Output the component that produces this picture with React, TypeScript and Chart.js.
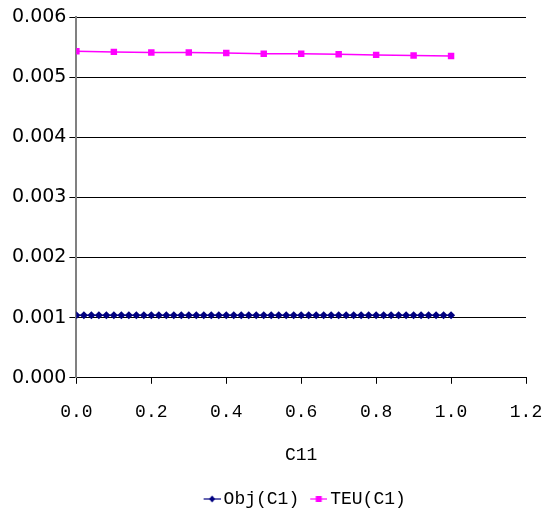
import React, { useEffect, useRef } from "react";
import { Chart, registerables } from "chart.js";

Chart.register(...registerables);

const objX: number[] = [
  0, 0.02, 0.04, 0.06, 0.08, 0.1, 0.12, 0.14, 0.16, 0.18, 0.2, 0.22, 0.24, 0.26, 0.28, 0.3, 0.32, 0.34, 0.36, 0.38,
  0.4, 0.42, 0.44, 0.46, 0.48, 0.5, 0.52, 0.54, 0.56, 0.58, 0.6, 0.62, 0.64, 0.66, 0.68, 0.7, 0.72, 0.74, 0.76, 0.78,
  0.8, 0.82, 0.84, 0.86, 0.88, 0.9, 0.92, 0.94, 0.96, 0.98, 1.0,
];
const objY: number[] = [
  0.00104, 0.00104, 0.00104, 0.00104, 0.00104, 0.00104, 0.00104, 0.00104, 0.00104, 0.00104, 0.00104, 0.00104,
  0.00104, 0.00104, 0.00104, 0.00104, 0.00104, 0.00104, 0.00104, 0.00104, 0.00104, 0.00104, 0.00104, 0.00104,
  0.00104, 0.00104, 0.00104, 0.00104, 0.00104, 0.00104, 0.00104, 0.00104, 0.00104, 0.00104, 0.00104, 0.00104,
  0.00104, 0.00104, 0.00104, 0.00104, 0.00104, 0.00104, 0.00104, 0.00104, 0.00104, 0.00104, 0.00104, 0.00104,
  0.00104, 0.00104, 0.00104,
];
const teuX: number[] = [0, 0.1, 0.2, 0.3, 0.4, 0.5, 0.6, 0.7, 0.8, 0.9, 1.0];
const teuY: number[] = [0.00543, 0.00542, 0.00541, 0.00541, 0.0054, 0.00539, 0.00539, 0.00538, 0.00537, 0.00536, 0.00535];
const seriesNames: string[] = ["Obj(C1)", "TEU(C1)"];
const xTitle = "C11";

function legendIcon(color: string, shape: "diamond" | "square"): HTMLCanvasElement {
  const c = document.createElement("canvas");
  c.width = 30;
  c.height = 10;
  const ctx = c.getContext("2d")!;
  ctx.strokeStyle = color;
  ctx.globalAlpha = 0.6;
  ctx.lineWidth = 2;
  ctx.beginPath();
  ctx.moveTo(13, 5);
  ctx.lineTo(30, 5);
  ctx.stroke();
  ctx.globalAlpha = 1;
  ctx.fillStyle = color;
  const cx = 21.5;
  if (shape === "square") {
    ctx.fillRect(cx - 3, 2, 6, 6);
  } else {
    ctx.beginPath();
    ctx.moveTo(cx, 1.5);
    ctx.lineTo(cx + 3, 5);
    ctx.lineTo(cx, 8.5);
    ctx.lineTo(cx - 3, 5);
    ctx.closePath();
    ctx.fill();
  }
  return c;
}

export default function App() {
  const ref = useRef<HTMLCanvasElement | null>(null);
  useEffect(() => {
    if (!ref.current) return;
    const icons = [legendIcon("#000080", "diamond"), legendIcon("#FF00FF", "square")];
    const chart = new Chart(ref.current, {
      type: "scatter",
      data: {
        datasets: [
          {
            label: seriesNames[0],
            data: objX.map((x, i) => ({ x, y: objY[i] })),
            showLine: true,
            borderColor: "#000080",
            backgroundColor: "#000080",
            borderWidth: 1.5,
            pointStyle: "rectRot",
            pointRadius: 3,
          },
          {
            label: seriesNames[1],
            data: teuX.map((x, i) => ({ x, y: teuY[i] })),
            showLine: true,
            borderColor: "#FF00FF",
            backgroundColor: "#FF00FF",
            borderWidth: 1.5,
            pointStyle: "rect",
            pointRadius: 3.5,
          },
        ],
      },
      options: {
        animation: false,
        responsive: true,
        maintainAspectRatio: false,
        layout: { padding: { left: 9, right: 24, top: 17, bottom: 0 } },
        scales: {
          x: {
            type: "linear",
            min: 0,
            max: 1.2,
            afterFit: (s: any) => {
              s.paddingRight = 0;
              s.paddingLeft = 0;
            },
            ticks: {
              stepSize: 0.2,
              color: "#000",
              font: { family: "Liberation Mono", size: 18 },
              padding: 18,
              callback: (v: any) => Number(v).toFixed(1),
            },
            grid: { drawOnChartArea: false, drawTicks: true, tickLength: 6, color: "#000" },
            border: { color: "#000", width: 1 },
            title: {
              display: true,
              text: xTitle,
              color: "#000",
              font: { family: "Liberation Mono", size: 18 },
              padding: { top: 3, bottom: 20 },
            },
          },
          y: {
            type: "linear",
            min: 0,
            max: 0.006,
            ticks: {
              stepSize: 0.001,
              color: "#000",
              font: { family: "DejaVu Sans", size: 19 },
              padding: 3,
              callback: (v: any) => Number(v).toFixed(3),
            },
            grid: { color: "#000", lineWidth: 1, tickLength: 7 },
            border: { color: "#808080", width: 2 },
          },
        },
        plugins: {
          legend: {
            position: "bottom",
            fullSize: false,
            labels: {
              usePointStyle: true,
              color: "#000",
              font: { family: "Liberation Mono", size: 18 },
              padding: 4,
              generateLabels: (ch: any) =>
                ch.data.datasets.map((d: any, i: number) => ({
                  text: d.label,
                  fillStyle: d.backgroundColor,
                  strokeStyle: d.borderColor,
                  pointStyle: icons[i],
                  datasetIndex: i,
                  fontColor: "#000",
                })),
            },
          },
          tooltip: { enabled: false },
        },
      },
    });
    return () => chart.destroy();
  }, []);
  return (
    <div style={{ position: "absolute", left: 0, top: 0, width: 550, height: 518 }}>
      <canvas ref={ref} />
    </div>
  );
}
